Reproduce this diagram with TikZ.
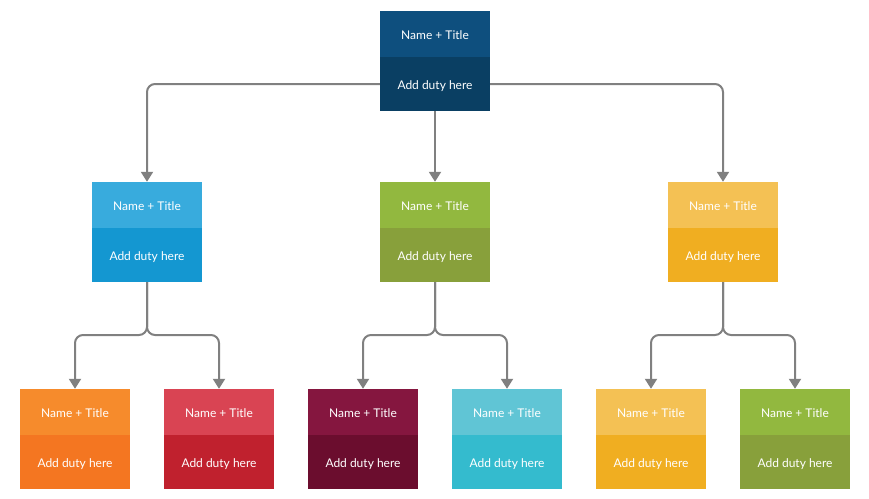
\documentclass[tikz,border=0pt]{standalone}
\usepackage{fontspec}
\setmainfont{Lato}
\usetikzlibrary{arrows.meta}
\definecolor{topA}{HTML}{0E4F7E}
\definecolor{topB}{HTML}{0A3F63}
\definecolor{blueA}{HTML}{38ABDD}
\definecolor{blueB}{HTML}{1497D1}
\definecolor{greenA}{HTML}{92B83F}
\definecolor{greenB}{HTML}{88A03B}
\definecolor{yellowA}{HTML}{F4C154}
\definecolor{yellowB}{HTML}{F0AE21}
\definecolor{orangeA}{HTML}{F68B2C}
\definecolor{orangeB}{HTML}{F47621}
\definecolor{redA}{HTML}{D94453}
\definecolor{redB}{HTML}{C0212E}
\definecolor{maroonA}{HTML}{85163F}
\definecolor{maroonB}{HTML}{6B0D2E}
\definecolor{cyanA}{HTML}{60C5D5}
\definecolor{cyanB}{HTML}{34BBCE}
\definecolor{connc}{HTML}{808080}
\tikzset{
  head/.style={rectangle, inner sep=0pt, minimum width=110pt, minimum height=46pt, text height=11.5pt, text depth=0pt, text=white, font=\fontsize{12}{14}\selectfont},
  duty/.style={rectangle, inner sep=0pt, minimum width=110pt, minimum height=54pt, text height=11.5pt, text depth=0pt, text=white, font=\fontsize{12}{14}\selectfont},
  conn/.style={draw=connc, line width=2pt, rounded corners=8pt, -{Triangle[width=12pt,length=10pt]}},
}
\begin{document}
\begin{tikzpicture}[x=1pt,y=-1pt]
\useasboundingbox (0,0) rectangle (869,498);
% top
\node[head, fill=topA] (th) at (435,34) {Name + Title};
\node[duty, fill=topB] (td) at (435,84) {Add duty here};
% middle
\node[head, fill=blueA] (m1h) at (147,205) {Name + Title};
\node[duty, fill=blueB] (m1d) at (147,255) {Add duty here};
\node[head, fill=greenA] (m2h) at (435,205) {Name + Title};
\node[duty, fill=greenB] (m2d) at (435,255) {Add duty here};
\node[head, fill=yellowA] (m3h) at (723,205) {Name + Title};
\node[duty, fill=yellowB] (m3d) at (723,255) {Add duty here};
% bottom
\node[head, fill=orangeA] (b1h) at (75,412) {Name + Title};
\node[duty, fill=orangeB] (b1d) at (75,462) {Add duty here};
\node[head, fill=redA] (b2h) at (219,412) {Name + Title};
\node[duty, fill=redB] (b2d) at (219,462) {Add duty here};
\node[head, fill=maroonA] (b3h) at (363,412) {Name + Title};
\node[duty, fill=maroonB] (b3d) at (363,462) {Add duty here};
\node[head, fill=cyanA] (b4h) at (507,412) {Name + Title};
\node[duty, fill=cyanB] (b4d) at (507,462) {Add duty here};
\node[head, fill=yellowA] (b5h) at (651,412) {Name + Title};
\node[duty, fill=yellowB] (b5d) at (651,462) {Add duty here};
\node[head, fill=greenA] (b6h) at (795,412) {Name + Title};
\node[duty, fill=greenB] (b6d) at (795,462) {Add duty here};
% junctions
\coordinate (j1) at (147,335);
\coordinate (j2) at (435,335);
\coordinate (j3) at (723,335);
% connectors
\draw[conn] (td.west) -| (m1h.north);
\draw[conn] (td.east) -| (m3h.north);
\draw[conn] (td.south) -- (m2h.north);
\draw[conn] (m1d.south) -- (j1) -| (b1h.north);
\draw[conn] (m1d.south) -- (j1) -| (b2h.north);
\draw[conn] (m2d.south) -- (j2) -| (b3h.north);
\draw[conn] (m2d.south) -- (j2) -| (b4h.north);
\draw[conn] (m3d.south) -- (j3) -| (b5h.north);
\draw[conn] (m3d.south) -- (j3) -| (b6h.north);
\end{tikzpicture}
\end{document}
